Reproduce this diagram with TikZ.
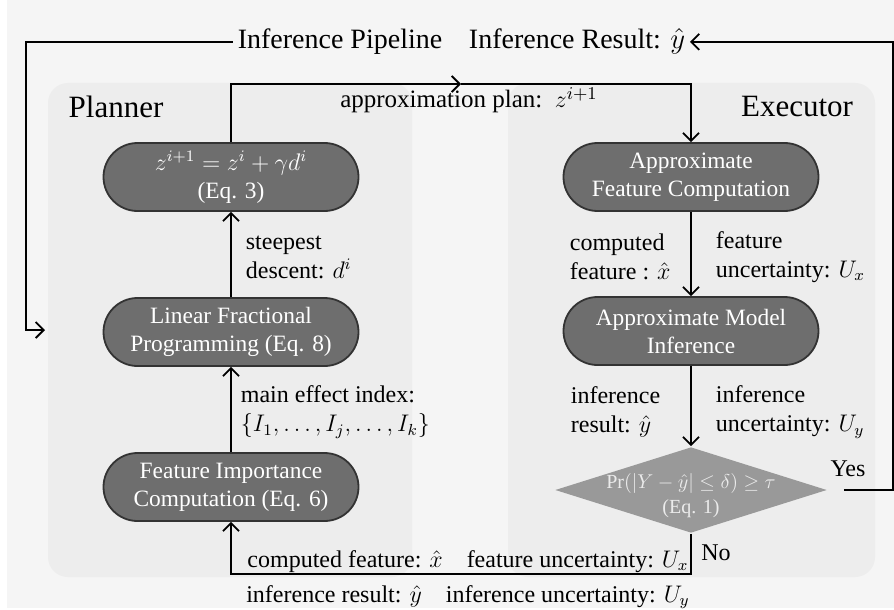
\documentclass[tikz,border=0pt]{standalone}
\usepackage{fontspec}
\setmainfont{Liberation Serif}
\usetikzlibrary{shapes.geometric,arrows.meta}

\begin{document}
\begin{tikzpicture}[x=0.5pt, y=-0.5pt, line width=0.9pt,
    >={Straight Barb[length=4pt,width=8pt]},
    proc/.style={draw=black!80, fill=black!57, text=white, rounded corners=17pt,
      minimum width=127.5pt, minimum height=34pt, align=center,
      font=\fontsize{11.7}{14}\selectfont},
    decision/.style={diamond, fill=black!40, minimum width=136pt, minimum height=43pt, inner sep=0pt},
    dectext/.style={align=center, inner sep=0pt, text=black!8, font=\fontsize{10}{12.5}\selectfont},
    lbl/.style={anchor=west, align=left, inner sep=0pt, font=\fontsize{12}{14.5}\selectfont},
    midlbl/.style={anchor=base, inner sep=0pt, font=\fontsize{12}{14.5}\selectfont},
    toplbl/.style={anchor=base, inner sep=2pt, font=\fontsize{14}{16}\selectfont},
    panel/.style={fill=black!7, rounded corners=10pt},
    paneltitle/.style={anchor=base, font=\fontsize{15.5}{18}\selectfont}]
  \useasboundingbox (0,0) rectangle (894,610);
  \fill[black!4] (7,0) rectangle (894,608);
  \fill[panel] (48,83) rectangle (412,577);
  \fill[panel] (508,83) rectangle (875,577);
  \node[paneltitle] (planner) at (116,118) {Planner};
  \node[paneltitle] (executor) at (797,117) {Executor};

  \node[toplbl] (pipe) at (340,49) {Inference Pipeline};
  \node[toplbl] (result) at (577,49) {Inference Result: $\hat{y}$};

  \node[proc] (eq) at (231,177) {$z^{i+1}=z^{i}+\gamma d^{i}$\\(Eq. 3)};
  \node[proc] (lfp) at (231,332) {Linear Fractional\\Programming (Eq. 8)};
  \node[proc] (fic) at (231,487) {Feature Importance\\Computation (Eq. 6)};
  \node[proc] (afc) at (691,177) {Approximate\\Feature Computation};
  \node[proc] (ami) at (691,331) {Approximate Model\\Inference};
  \node[decision] (dec) at (691,490) {};
  \node[dectext] (dectxt) at (691,496) {$\Pr(|Y-\hat{y}|\leq\delta)\geq\tau$\\(Eq. 1)};

  \coordinate (entry) at (45,330);
  \coordinate (plan) at (461,84);
  \draw[->] (pipe.west) -| (26,330) -- (entry);
  \draw[->] ([xshift=8pt]dec.east) -- (893,490) |- (result.east);
  \draw[->] (eq.north) |- (plan);
  \draw[->] (plan) -| (afc.north);
  \draw[->] (lfp.north) -- (eq.south);
  \draw[->] (fic.north) -- (lfp.south);
  \draw[->] (afc.south) -- (ami.north);
  \draw[->] (ami.south) -- (dec.north);
  \draw[->] (dec.south) -- (691,574) -| (fic.south);

  \node[midlbl, font=\fontsize{12.5}{15}\selectfont] (planlbl) at (469,108) {approximation plan:\ \ $z^{i+1}$};
  \node[lbl] (steep) at (245,257) {steepest\\descent: $d^{i}$};
  \node[lbl] (effect) at (240,412) {main effect index:\\$\{I_1,\dots,I_j,\dots,I_k\}$};
  \node[lbl] (compf) at (569,257) {computed\\feature : $\hat{x}$};
  \node[lbl] (featu) at (715,257) {feature\\uncertainty: $U_x$};
  \node[lbl] (infr) at (570,412) {inference\\result: $\hat{y}$};
  \node[lbl] (infu) at (715,412) {inference\\uncertainty: $U_y$};
  \node[midlbl] (yes) at (848,476) {Yes};
  \node[midlbl] (no) at (716,560) {No};
  \node[midlbl] (botup) at (468,567) {computed feature: $\hat{x}$\quad feature uncertainty: $U_x$};
  \node[midlbl] (botdn) at (468,602) {inference result: $\hat{y}$\quad inference uncertainty: $U_y$};
\end{tikzpicture}
\end{document}
